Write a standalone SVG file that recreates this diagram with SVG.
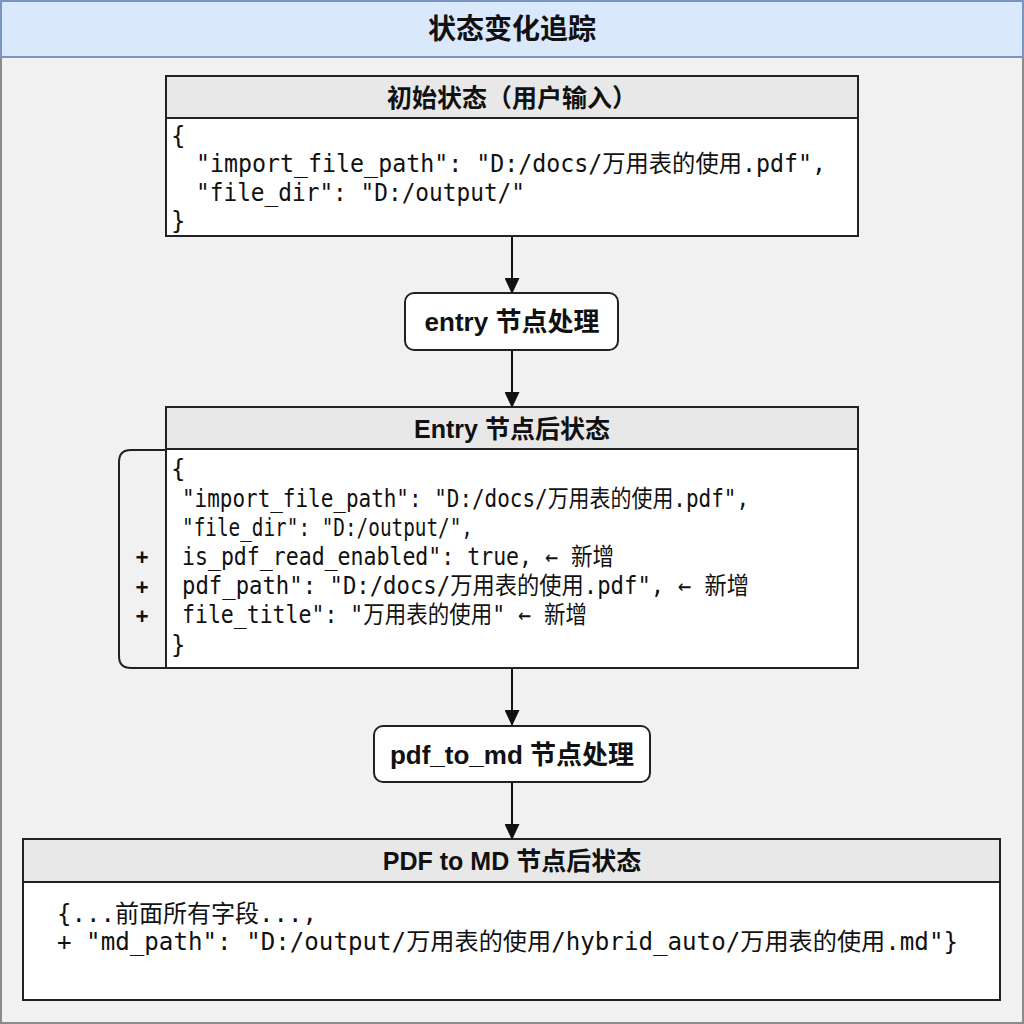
<svg xmlns="http://www.w3.org/2000/svg" width="1024" height="1024" viewBox="0 0 1024 1024">
<defs>
<marker id="arr" markerWidth="16" markerHeight="15" refX="15" refY="7.5" orient="auto" markerUnits="userSpaceOnUse">
<path d="M0,0 L16,7.5 L0,15 Z" fill="#111"/>
</marker>
<style>
.bg{fill:#f1f1f1;stroke:#8a8a8a;stroke-width:2}
.title{fill:#dae8fc;stroke:#7a96c0;stroke-width:2}
.ttl{font-family:"Liberation Sans","Noto Sans CJK SC",sans-serif;font-weight:bold;font-size:28px;fill:#111;text-anchor:middle;dominant-baseline:central}
.hdr{fill:#e8e8e8;stroke:#222;stroke-width:2}
.body{fill:#fff;stroke:#222;stroke-width:2}
.proc{fill:#fff;stroke:#222;stroke-width:2}
.h{font-family:"Liberation Sans","Noto Sans CJK SC",sans-serif;font-weight:bold;font-size:25px;fill:#111;text-anchor:middle;dominant-baseline:central}
.p{font-family:"Liberation Sans","Noto Sans CJK SC",sans-serif;font-weight:bold;font-size:26px;fill:#111;text-anchor:middle;dominant-baseline:central}
.m{font-family:"DejaVu Sans Mono","Noto Sans CJK SC",monospace;font-size:24px;fill:#111}
.plus{font-family:"DejaVu Sans Mono",monospace;font-weight:bold;font-size:21px;fill:#111;text-anchor:middle;dominant-baseline:central}
.edge{stroke:#111;stroke-width:2;fill:none;marker-end:url(#arr)}
</style>
</defs>
<rect class="bg" x="1" y="1" width="1022" height="1022"/>
<g id="title">
<rect class="title" x="1" y="1" width="1022" height="56"/>
<text class="ttl" x="512" y="29">状态变化追踪</text>
</g>
<g id="connectors">
<line class="edge" x1="512" y1="237" x2="512" y2="293"/>
<line class="edge" x1="512" y1="351" x2="512" y2="407"/>
<line class="edge" x1="512" y1="669" x2="512" y2="725"/>
<line class="edge" x1="512" y1="783" x2="512" y2="839"/>
</g>
<g id="initial-state">
<rect class="hdr" x="166" y="76" width="692" height="42"/>
<rect class="body" x="166" y="118" width="692" height="118"/>
<text class="h" x="512" y="98">初始状态（用户输入）</text>
<text class="m" x="171" y="144">{</text>
<text class="m" x="196" y="172" textLength="630" lengthAdjust="spacingAndGlyphs">"import_file_path": "D:/docs/万用表的使用.pdf",</text>
<text class="m" x="196" y="201" textLength="329" lengthAdjust="spacingAndGlyphs">"file_dir": "D:/output/"</text>
<text class="m" x="171" y="229">}</text>
</g>
<g id="entry-process">
<rect class="proc" x="405" y="293" width="213" height="57" rx="9"/>
<text class="p" x="512" y="322">entry 节点处理</text>
</g>
<g id="entry-state">
<path d="M166,450 H131 Q119,450 119,462 V656 Q119,668 131,668 H166" fill="none" stroke="#222" stroke-width="2"/>
<rect class="hdr" x="166" y="407" width="692" height="42"/>
<rect class="body" x="166" y="449" width="692" height="219"/>
<text class="h" x="512" y="429">Entry 节点后状态</text>
<text class="m" x="171" y="477">{</text>
<text class="m" x="182" y="507" textLength="567" lengthAdjust="spacingAndGlyphs">"import_file_path": "D:/docs/万用表的使用.pdf",</text>
<text class="m" x="182" y="536" textLength="291" lengthAdjust="spacingAndGlyphs">"file_dir": "D:/output/",</text>
<text class="m" x="182" y="565" textLength="432" lengthAdjust="spacingAndGlyphs">is_pdf_read_enabled": true, ← 新增</text>
<text class="m" x="182" y="594" textLength="567" lengthAdjust="spacingAndGlyphs">pdf_path": "D:/docs/万用表的使用.pdf", ← 新增</text>
<text class="m" x="182" y="623" textLength="405" lengthAdjust="spacingAndGlyphs">file_title": "万用表的使用" ← 新增</text>
<text class="m" x="171" y="653">}</text>
<text class="plus" x="142" y="557">+</text>
<text class="plus" x="142" y="587">+</text>
<text class="plus" x="142" y="616">+</text>
</g>
<g id="pdf-process">
<rect class="proc" x="374" y="726" width="276" height="56" rx="9"/>
<text class="p" x="512" y="755">pdf_to_md 节点处理</text>
</g>
<g id="pdf-state">
<rect class="hdr" x="23" y="839" width="977" height="43"/>
<rect class="body" x="23" y="882" width="977" height="118"/>
<text class="h" x="512" y="861">PDF to MD 节点后状态</text>
<text class="m" x="57" y="922" textLength="260" lengthAdjust="spacingAndGlyphs">{...前面所有字段...,</text>
<text class="m" x="57" y="950" textLength="901" lengthAdjust="spacingAndGlyphs">+ "md_path": "D:/output/万用表的使用/hybrid_auto/万用表的使用.md"}</text>
</g>
</svg>
